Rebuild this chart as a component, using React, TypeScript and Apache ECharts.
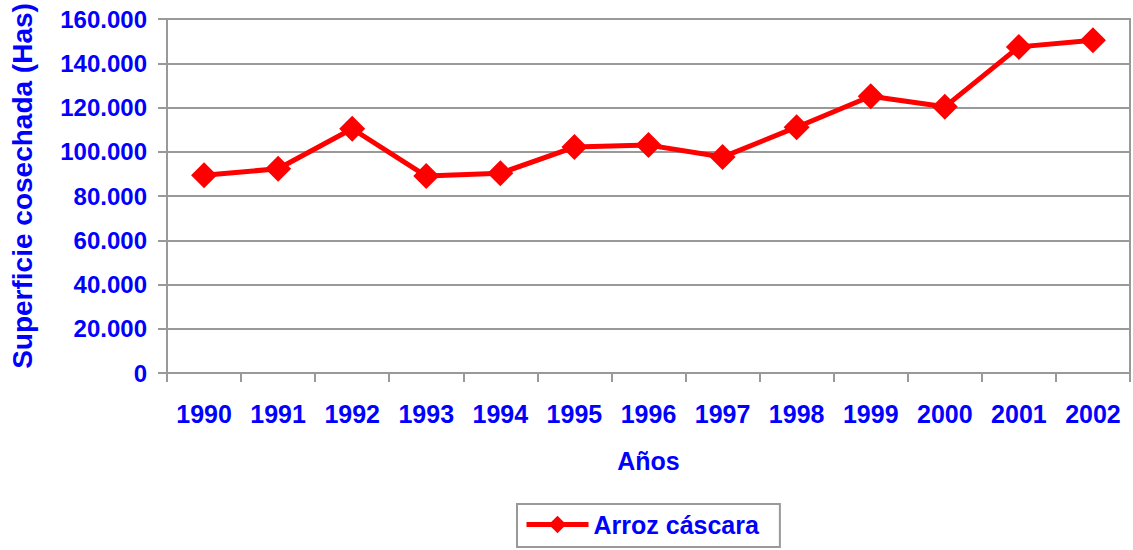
import React, { useEffect, useRef } from "react";
import * as echarts from "echarts";

const years = ["1990", "1991", "1992", "1993", "1994", "1995", "1996", "1997", "1998", "1999", "2000", "2001", "2002"];
const arrozCascara = [89400, 92300, 110400, 89000, 90300, 102100, 103000, 97600, 111100, 125100, 120300, 147400, 150400];
const seriesName = "Arroz cáscara";
const yTitle = "Superficie cosechada (Has)";
const xTitle = "Años";

const BLUE = "#0000FF";
const GRAY = "#999999";
const FONT = "Liberation Sans";

function fmt(v: number): string {
  return String(Math.round(v)).replace(/\B(?=(\d{3})+(?!\d))/g, ".");
}

export default function App() {
  const ref = useRef<HTMLDivElement>(null);
  useEffect(() => {
    if (!ref.current) return;
    const chart = echarts.init(ref.current, null, { renderer: "svg" });
    chart.setOption({
      animation: false,
      backgroundColor: "#ffffff",
      textStyle: { fontFamily: FONT },
      grid: {
        left: 166,
        right: 3,
        top: 19,
        bottom: 177,
        show: true,
        borderColor: GRAY,
        borderWidth: 2,
      },
      legend: {
        data: [seriesName],
        left: 517,
        top: 504,
        padding: [8, 21, 10, 7],
        itemWidth: 62,
        itemHeight: 22,
        itemGap: 2,
        borderColor: GRAY,
        borderWidth: 2,
        lineStyle: { width: 5 },
        textStyle: { color: BLUE, fontSize: 25, fontWeight: "bold", fontFamily: FONT, padding: [0, 0, 0, 0] },
      },
      xAxis: {
        type: "category",
        data: years,
        boundaryGap: true,
        name: xTitle,
        nameLocation: "middle",
        nameGap: 75,
        nameTextStyle: { color: BLUE, fontSize: 25, fontWeight: "bold", fontFamily: FONT },
        axisLine: { lineStyle: { color: GRAY, width: 2 } },
        axisTick: { show: true, alignWithLabel: false, length: 9, inside: false, lineStyle: { color: GRAY, width: 2 } },
        axisLabel: { color: BLUE, fontSize: 25, fontWeight: "bold", fontFamily: FONT, margin: 28, interval: 0 },
        splitLine: { show: false },
      },
      yAxis: {
        type: "value",
        min: 0,
        max: 160000,
        interval: 20000,
        name: yTitle,
        nameLocation: "middle",
        nameGap: 131,
        nameRotate: 90,
        nameTextStyle: { color: BLUE, fontSize: 28, fontWeight: "bold", fontFamily: FONT, padding: [0, 0, 0, 20] },
        axisLine: { show: true, lineStyle: { color: GRAY, width: 2 } },
        axisTick: { show: true, length: 9, lineStyle: { color: GRAY, width: 2 } },
        axisLabel: { color: BLUE, fontSize: 24, fontWeight: "bold", fontFamily: FONT, margin: 20, formatter: (v: number) => fmt(v) },
        splitLine: { show: true, lineStyle: { color: GRAY, width: 2 } },
      },
      series: [
        {
          name: seriesName,
          type: "line",
          data: arrozCascara,
          symbol: "diamond",
          symbolSize: 26,
          itemStyle: { color: "#FF0000" },
          lineStyle: { color: "#FF0000", width: 5 },
        },
      ],
    });
    return () => chart.dispose();
  }, []);
  return <div ref={ref} style={{ width: 1133, height: 550, position: "absolute", left: 0, top: 0 }} />;
}
